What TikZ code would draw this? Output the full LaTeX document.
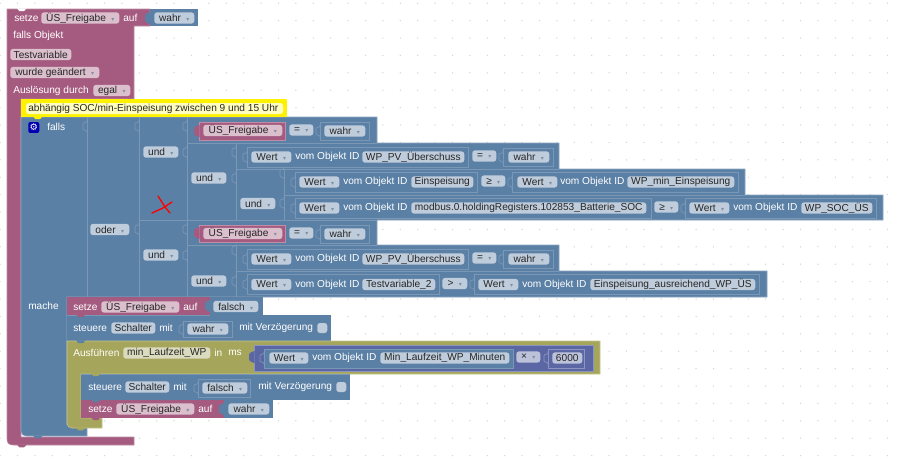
\documentclass[tikz,border=0pt]{standalone}
\usepackage{fontspec}
\setmainfont{Liberation Sans}
\newfontfamily\symfont{DejaVu Sans}
\usetikzlibrary{positioning}
\definecolor{pinkblock}{HTML}{A55B80}
\definecolor{pinkline}{HTML}{C08CA6}
\definecolor{pinkfield}{HTML}{DBBFCD}
\definecolor{blueblock}{HTML}{5B80A5}
\definecolor{blueline}{HTML}{8CA6C0}
\definecolor{bluefield}{HTML}{BFCCDB}
\definecolor{sockline}{HTML}{7A98B6}
\definecolor{oliveblock}{HTML}{A5A55B}
\definecolor{oliveline}{HTML}{C6C68F}
\definecolor{olivefield}{HTML}{DBDBBF}
\definecolor{mathblock}{HTML}{5B67A5}
\definecolor{mathline}{HTML}{8C95C0}
\definecolor{mathfield}{HTML}{BDC2DB}
\definecolor{arrowgray}{HTML}{7F8FA0}
\newcommand{\dd}{\hspace{4pt}{\symfont\fontsize{4.5}{5}\selectfont\textcolor{arrowgray}{▾}}}
\tikzset{
  wd/.style={minimum width=#1*0.75pt},
  lbl/.style={anchor=west, inner sep=0pt, text=white, font=\fontsize{7.6}{9}\selectfont},
  fieldbase/.style={anchor=west, inner sep=0pt, rounded corners=2pt, minimum height=8.4pt, text=black!85, font=\fontsize{7.6}{9}\selectfont},
  pinkbox/.style={fieldbase, fill=pinkfield},
  bluebox/.style={fieldbase, fill=bluefield},
  olivebox/.style={fieldbase, fill=olivefield},
  mathbox/.style={fieldbase, fill=mathfield},
  valblue/.style={draw=sockline, fill=blueblock, line width=0.6pt},
  valpink/.style={draw=pinkline, fill=pinkblock, line width=0.6pt},
  hairline/.style={draw=sockline, line width=0.6pt},
  sock/.pic={\draw[pic actions, line width=0.5pt] (0,-6.5) -- (0,-4.5) -- (-1,-4) .. controls (-4,-3.5) and (-4,-3) .. (-4,-2) -- (-4,2.5) .. controls (-4,3.5) and (-4,4) .. (-1,4.5) -- (0,5) -- (0,6.5);},
  tabfill/.pic={\fill[pic actions] (0.5,-6) -- (-2.5,-5) .. controls (-5,-4) and (-5,-3) .. (-5,0) .. controls (-5,3) and (-5,4) .. (-2.5,5) -- (0.5,6) -- cycle;},
  notch/.pic={\fill[pic actions] (0,-0.3) -- (2.5,2.4) -- (7,2.4) -- (9.5,-0.3) -- cycle;}
}
\begin{document}
\begin{tikzpicture}[x=0.75pt,y=-0.75pt]
\useasboundingbox[fill=white] (0,0) rectangle (897,458);
% grid dots
\foreach \i in {0,...,51}
  \foreach \j in {0,...,26}
    \fill[black!16] ({0.1+17.4*\i},{3.2+17.4*\j}) circle (0.75);

% outer trigger block
\draw[fill=pinkblock, draw=pinkline, line width=0.4pt] (7,9) -| (150,26) -| (134,99) -| (21,437) -| (134,445) -- (13,445) .. controls (9,445) and (7,443) .. (7,439) -- cycle;
\pic[white] at (17,8.7) {notch};
\pic[pinkblock] at (17,445) {notch};
\fill[blueblock] (150,9) rectangle (198,26);
\pic[blueblock] at (150,18) {tabfill};
\pic[pinkblock] at (35,99) {notch};

% falls block
\draw[fill=blueblock, draw=blueline, line width=0.4pt] (21,117) -| (377,143) -| (559,169) -| (745,195) -| (883,220) -| (377,245) -| (559,271) -| (767,297) -| (67,425) -| (87,436) -- (27,436) .. controls (23,436) and (21,434) .. (21,430) -- cycle;
\pic[blueblock] at (33,436) {notch};
\draw[hairline] (87,117) -- (87,297);
\draw[hairline] (139,117) -- (139,297);
\draw[hairline] (187,117) -- (187,297);
\draw[hairline] (236,143) -- (236,220);
\draw[hairline] (236,245) -- (236,297);
\draw[hairline] (284,169) -- (284,220);
\draw[hairline] (139,220) -- (377,220);
\draw[hairline] (187,143) -- (377,143);
\draw[hairline] (236,169) -- (559,169);
\draw[hairline] (284,195) -- (745,195);
\draw[hairline] (187,245) -- (377,245);
\draw[hairline] (236,271) -- (559,271);
% sockets
\foreach \sx/\sy in {87/126,139/126,187/126,187/152,236/152,236/178,284/173,284/203,139/229,187/229,187/255,236/250,236/281}
  \pic[sockline] at (\sx,\sy) {sock};

% comment
\fill[yellow] (21,99) rectangle (287,117);
\fill[yellow!25, rounded corners=2pt] (26,103) rectangle (283,114);
\pic[yellow] at (33,116.7) {notch};
\node[lbl, text=black!85] (kommentar) at (28,108.5) {abhängig SOC/min-Einspeisung zwischen 9 und 15 Uhr};

% head rows
\node[lbl] (setze0) at (14,18) {setze};
\node[pinkbox, wd=78] (freigabe0) at (41,18) {ÜS\_Freigabe\dd};
\node[lbl] (auf0) at (123,18) {auf};
\node[bluebox, wd=40] (wahr0) at (154,18) {wahr\dd};
\node[lbl] (fallsobj) at (13,36) {falls Objekt};
\node[pinkbox, wd=61] (testvar) at (10,54.5) {Testvariable};
\node[pinkbox, wd=89] (geaendert) at (10,72.5) {wurde geändert\dd};
\node[lbl] (ausloesung) at (13,91) {Auslösung durch};
\node[pinkbox, wd=37] (egal) at (93,90.5) {egal\dd};

% falls column
\node[fill=blue!70!black, rounded corners=1.5pt, wd=11, minimum height=8.2pt, inner sep=0pt, anchor=west, text=white, font=\symfont\fontsize{7}{7}\selectfont] (zahnrad) at (28,127.5) {⚙};
\node[lbl] (falls) at (47,126.5) {falls};
\node[bluebox, wd=39] (oder) at (90,229.5) {oder\dd};
\node[bluebox, wd=35] (und1) at (143,152) {und\dd};
\node[bluebox, wd=35] (und2) at (143,255) {und\dd};
\node[bluebox, wd=35] (und3) at (191,178) {und\dd};
\node[bluebox, wd=35] (und4) at (191,281) {und\dd};
\node[bluebox, wd=35] (und5) at (240,203.5) {und\dd};

% row one
\draw[valpink] (199,122) rectangle (285,140);
\pic[pinkblock] at (199,131) {tabfill};
\node[pinkbox, wd=79] (freigabe1) at (203,130.5) {ÜS\_Freigabe\dd};
\node[bluebox, wd=24] (gleich1) at (289,130) {=\dd};
\draw[valblue] (320,122) rectangle (369,140);
\pic[sockline] at (320,131) {sock};
\node[bluebox, wd=41] (wahr1) at (324,131) {wahr\dd};

% row two
\draw[valblue] (247,147) rectangle (468,167);
\pic[sockline] at (247,157) {sock};
\node[bluebox, wd=40] (wert2) at (251,157) {Wert\dd};
\node[lbl] (vom2) at (295,157) {vom Objekt ID};
\node[bluebox, wd=102] (ueberschuss1) at (362,157) {WP\_PV\_Überschuss};
\node[bluebox, wd=24] (gleich2) at (472,156) {=\dd};
\draw[valblue] (503,148) rectangle (553,166);
\pic[sockline] at (503,157) {sock};
\node[bluebox, wd=41] (wahr2) at (508,157) {wahr\dd};

% row three
\draw[valblue] (295,172) rectangle (477,192);
\pic[sockline] at (295,182) {sock};
\node[bluebox, wd=40] (wert3) at (299,182) {Wert\dd};
\node[lbl] (vom3) at (343,182) {vom Objekt ID};
\node[bluebox, wd=62] (einspeisung) at (411,182) {Einspeisung};
\node[bluebox, wd=24] (groesser3) at (481,181) {≥\dd};
\draw[valblue] (512,172) rectangle (738,192);
\pic[sockline] at (512,182) {sock};
\node[bluebox, wd=40] (wert3b) at (517,182) {Wert\dd};
\node[lbl] (vom3b) at (560,182) {vom Objekt ID};
\node[bluebox, wd=107] (mineinsp) at (627,182) {WP\_min\_Einspeisung};

% row four
\draw[valblue] (295,198) rectangle (651,218);
\pic[sockline] at (295,208) {sock};
\node[bluebox, wd=40] (wert4) at (299,208) {Wert\dd};
\node[lbl] (vom4) at (343,208) {vom Objekt ID};
\node[bluebox, wd=235] (modbus) at (411,208) {modbus.0.holdingRegisters.102853\_Batterie\_SOC};
\node[bluebox, wd=24] (groesser4) at (654,207) {≥\dd};
\draw[valblue] (685,198) rectangle (876,218);
\pic[sockline] at (685,208) {sock};
\node[bluebox, wd=40] (wert4b) at (689,208) {Wert\dd};
\node[lbl] (vom4b) at (733,208) {vom Objekt ID};
\node[bluebox, wd=71] (socus) at (801,208) {WP\_SOC\_ÜS};

% row five
\draw[valpink] (199,225) rectangle (285,242);
\pic[pinkblock] at (199,233) {tabfill};
\node[pinkbox, wd=79] (freigabe5) at (203,233.5) {ÜS\_Freigabe\dd};
\node[bluebox, wd=24] (gleich5) at (289,233) {=\dd};
\draw[valblue] (320,225) rectangle (369,243);
\pic[sockline] at (320,234) {sock};
\node[bluebox, wd=41] (wahr5) at (324,234) {wahr\dd};

% row six
\draw[valblue] (247,249) rectangle (468,269);
\pic[sockline] at (247,259) {sock};
\node[bluebox, wd=40] (wert6) at (251,259) {Wert\dd};
\node[lbl] (vom6) at (295,259) {vom Objekt ID};
\node[bluebox, wd=102] (ueberschuss2) at (362,259) {WP\_PV\_Überschuss};
\node[bluebox, wd=24] (gleich6) at (472,258) {=\dd};
\draw[valblue] (503,250) rectangle (553,268);
\pic[sockline] at (503,259) {sock};
\node[bluebox, wd=41] (wahr6) at (508,259) {wahr\dd};

% row seven
\draw[valblue] (247,274) rectangle (439,294);
\pic[sockline] at (247,284) {sock};
\node[bluebox, wd=40] (wert7) at (251,284.5) {Wert\dd};
\node[lbl] (vom7) at (295,284.5) {vom Objekt ID};
\node[bluebox, wd=73] (testvar2) at (362,284.5) {Testvariable\_2};
\node[bluebox, wd=25] (groesser7) at (442,283.5) {>\dd};
\draw[valblue] (474,274) rectangle (759,294);
\pic[sockline] at (474,284) {sock};
\node[bluebox, wd=40] (wert7b) at (478,284.5) {Wert\dd};
\node[lbl] (vom7b) at (522,284.5) {vom Objekt ID};
\node[bluebox, wd=165] (ausreichend) at (590,284.5) {Einspeisung\_ausreichend\_WP\_ÜS};

% red mark
\draw[red, line width=1pt, line cap=round] (158,196) -- (165,207) -- (170,213);
\draw[red, line width=1pt, line cap=round] (152,213) -- (163,208) -- (172,202);

% mache section
\node[lbl] (mache) at (28,306) {mache};
\fill[pinkblock] (67,297) rectangle (210,315);
\fill[blueblock] (210,297) rectangle (263,315);
\pic[blueblock] at (210,306) {tabfill};
\node[lbl] (setze1) at (73,307) {setze};
\node[pinkbox, wd=78] (freigabe6) at (101,307) {ÜS\_Freigabe\dd};
\node[lbl] (auf1) at (183,307) {auf};
\node[bluebox, wd=45] (falsch1) at (213,306.5) {falsch\dd};

\fill[blueblock] (67,315) rectangle (331,341);
\draw[hairline] (67,315) -- (210,315);
\pic[pinkblock] at (76,314.7) {notch};
\node[lbl] (steuere1) at (73,328) {steuere};
\node[bluebox, wd=44] (schalter1) at (111,328) {Schalter};
\node[lbl] (mit1) at (159,328) {mit};
\draw[valblue] (183,321) rectangle (232,337);
\pic[sockline] at (183,329) {sock};
\node[bluebox, wd=41] (wahr7) at (187,329) {wahr\dd};
\node[lbl] (verz1) at (239,328) {mit Verzögerung};
\node[bluebox, wd=10, minimum height=7.5pt] (check1) at (317,328) {};

% ausfuehren block
\draw[fill=oliveblock, draw=oliveline, line width=0.4pt] (67,341) -| (600,374) -| (81,418) -| (102,428) -- (72,428) .. controls (69,428) and (67,426) .. (67,423) -- cycle;
\pic[blueblock] at (76,340.7) {notch};
\pic[oliveblock] at (76,428) {notch};
\node[lbl] (ausfuehren) at (73,353) {Ausführen};
\node[olivebox, wd=87] (laufzeit) at (123,353) {min\_Laufzeit\_WP};
\node[lbl] (in) at (214,353) {in};
\node[lbl] (ms) at (228,353) {ms};
\draw[fill=mathblock, draw=mathline, line width=0.4pt] (254,345) rectangle (593,371);
\pic[mathblock] at (254,357) {tabfill};
\draw[valblue] (264,349) rectangle (513,368);
\pic[sockline] at (264,358) {sock};
\node[bluebox, wd=39] (wert8) at (269,358) {Wert\dd};
\node[lbl] (vom8) at (312,358) {vom Objekt ID};
\node[bluebox, wd=129] (minuten) at (380,358) {Min\_Laufzeit\_WP\_Minuten};
\node[mathbox, wd=24] (mal) at (516,357) {×\dd};
\draw[draw=mathline, line width=0.5pt] (548,349) rectangle (584,368);
\pic[mathline] at (548,358) {sock};
\node[mathbox, wd=30] (sechstausend) at (552,358) {6000};

% inner rows
\fill[blueblock] (81,374) rectangle (350,400);
\draw[hairline] (81,374) -- (350,374);
\pic[oliveblock] at (91,373.7) {notch};
\node[lbl] (steuere2) at (88,387) {steuere};
\node[bluebox, wd=44] (schalter2) at (125,387) {Schalter};
\node[lbl] (mit2) at (173,387) {mit};
\draw[valblue] (198,379) rectangle (250,397);
\pic[sockline] at (198,388) {sock};
\node[bluebox, wd=45] (falsch2) at (202,388) {falsch\dd};
\node[lbl] (verz2) at (258,387) {mit Verzögerung};
\node[bluebox, wd=10, minimum height=7.5pt] (check2) at (336,387) {};

\fill[pinkblock] (81,400) rectangle (224,418);
\fill[blueblock] (224,400) rectangle (273,418);
\pic[blueblock] at (91,399.7) {notch};
\pic[blueblock] at (224,409) {tabfill};
\pic[pinkblock] at (91,417.7) {notch};
\node[lbl] (setze2) at (88,409) {setze};
\node[pinkbox, wd=78] (freigabe7) at (116,409) {ÜS\_Freigabe\dd};
\node[lbl] (auf2) at (198,409) {auf};
\node[bluebox, wd=41] (wahr8) at (228,409) {wahr\dd};
\end{tikzpicture}
\end{document}
